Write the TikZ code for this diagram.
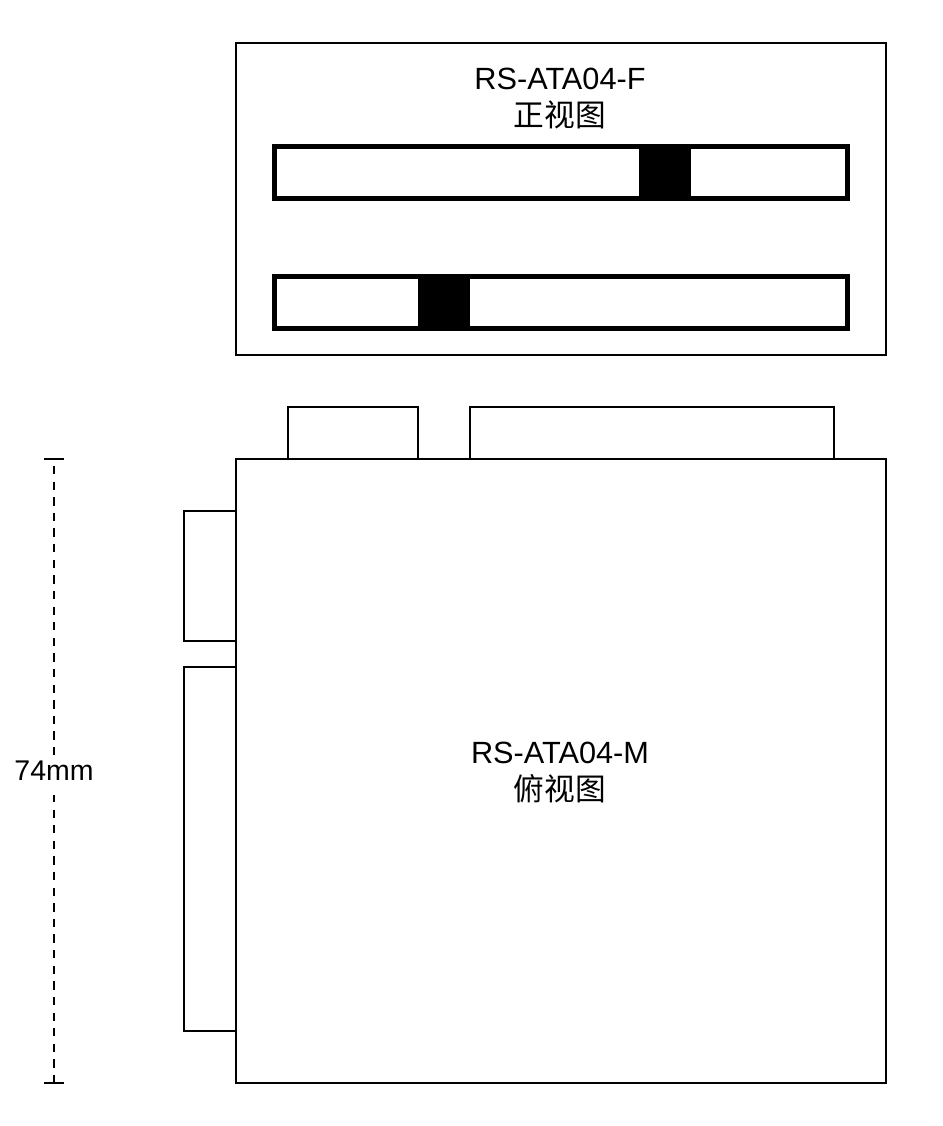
\documentclass[tikz,border=0pt]{standalone}
\usepackage{fontspec}
\setmainfont{Liberation Sans}
\newfontfamily\cjk{Noto Sans CJK SC}
\tikzset{
 x=1pt,y=-1pt,
 every node/.style={outer sep=0pt,inner sep=0pt},
 thinbox/.style={draw=black,line width=2.2pt,fill=white,anchor=north west},
 thickbox/.style={draw=black,line width=5pt,fill=white,anchor=north west},
 blk/.style={fill=black,draw=none,anchor=north west},
 lab/.style={align=center,font=\fontsize{30.7}{36.5}\selectfont},
 dimlab/.style={font=\fontsize{28.5}{35}\selectfont,fill=white,text height=25.5pt,text depth=14.5pt,anchor=base},
 dim/.style={draw=black,line width=2.7pt,dash pattern=on 8.3pt off 7.315pt},
 tick/.style={draw=black,line width=2.6pt}
}
\begin{document}
\begin{tikzpicture}
\useasboundingbox (0,0) rectangle (942,1126);
\fill[white] (0,0) rectangle (942,1126);
\node[thinbox,minimum width=650pt,minimum height=312pt] (front) at (236,43) {};
\node[thickbox,minimum width=573pt,minimum height=52pt] (barA) at (274.5,146.5) {};
\node[blk,minimum width=52pt,minimum height=55pt] (blkA) at (639,145) {};
\node[thickbox,minimum width=573pt,minimum height=52pt] (barB) at (274.5,276.5) {};
\node[blk,minimum width=52pt,minimum height=55pt] (blkB) at (418,275) {};
\node[lab] (ft) at (560,98.5) {RS-ATA04-F\\{\cjk 正视图}};
\node[thinbox,minimum width=130pt,minimum height=52pt] (t1) at (288,407) {};
\node[thinbox,minimum width=364pt,minimum height=52pt] (t2) at (470,407) {};
\node[thinbox,minimum width=52pt,minimum height=130pt] (l1) at (184,511) {};
\node[thinbox,minimum width=52pt,minimum height=364pt] (l2) at (184,667) {};
\node[thinbox,minimum width=650pt,minimum height=624pt] (main) at (236,459) {};
\node[lab] (mt) at (560,772.5) {RS-ATA04-M\\{\cjk 俯视图}};
\coordinate (d1) at (54,466);
\coordinate (d2) at (54,1083);
\draw[dim] (d1) -- (d2);
\draw[tick] (44,459) -- (64,459);
\draw[tick] (44,1083) -- (64,1083);
\node[dimlab] (dl) at (54,780.5) {74mm};
\end{tikzpicture}
\end{document}
